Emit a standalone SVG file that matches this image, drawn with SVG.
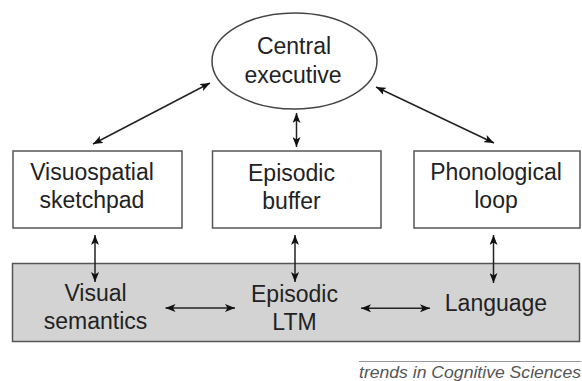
<svg xmlns="http://www.w3.org/2000/svg" width="582" height="381" viewBox="0 0 582 381">
<style>
.t{font-family:"Liberation Sans",Arial,sans-serif;font-size:23px;fill:#222;text-anchor:middle}
.box{fill:#fff;stroke:#555;stroke-width:1.5}
.c{stroke:#222;stroke-width:1.5;fill:none;marker-start:url(#a);marker-end:url(#a)}
</style>
<defs>
<marker id="a" viewBox="0 0 10 8" refX="10" refY="4" markerWidth="10" markerHeight="8" markerUnits="userSpaceOnUse" orient="auto-start-reverse">
<path d="M0,0 L10,4 L0,8 L2.5,4 Z" fill="#111"/>
</marker>
</defs>
<rect width="582" height="381" fill="#fff"/>
<g id="ltm">
<rect x="12.5" y="263.5" width="567" height="78" fill="#d3d3d3" stroke="#555" stroke-width="1.5"/>
</g>
<g id="central-executive">
<ellipse cx="294.5" cy="61" rx="82.5" ry="48" fill="#fff" stroke="#444" stroke-width="1.5"/>
<text class="t" x="294" y="54">Central</text>
<text class="t" x="293" y="83">executive</text>
</g>
<g id="visuospatial">
<rect class="box" x="13" y="151" width="169" height="77"/>
<text class="t" x="92" y="180">Visuospatial</text>
<text class="t" x="92" y="208">sketchpad</text>
</g>
<g id="episodic-buffer">
<rect class="box" x="212.5" y="151" width="168.5" height="77"/>
<text class="t" x="291.5" y="181">Episodic</text>
<text class="t" x="291.5" y="209">buffer</text>
</g>
<g id="phonological">
<rect class="box" x="414" y="151" width="166" height="77"/>
<text class="t" x="496" y="180">Phonological</text>
<text class="t" x="496" y="208">loop</text>
</g>
<g id="visual-semantics">
<text class="t" x="95.5" y="300.5">Visual</text>
<text class="t" x="95.5" y="329">semantics</text>
</g>
<g id="episodic-ltm">
<text class="t" x="294.5" y="301.5">Episodic</text>
<text class="t" x="294.5" y="329.5">LTM</text>
</g>
<g id="language">
<text class="t" x="496" y="311">Language</text>
</g>
<g id="connectors">
<line class="c" x1="93" y1="144" x2="210" y2="83"/>
<line class="c" x1="296.5" y1="113" x2="296.5" y2="147"/>
<line class="c" x1="376" y1="87" x2="494" y2="143"/>
<line class="c" x1="95" y1="235" x2="95" y2="282"/>
<line class="c" x1="295" y1="235" x2="295" y2="282"/>
<line class="c" x1="493.5" y1="235" x2="493.5" y2="283"/>
<line class="c" x1="165.5" y1="308" x2="235" y2="308"/>
<line class="c" x1="361" y1="308.3" x2="430" y2="308.3"/>
</g>
<g id="footer">
<line x1="359" y1="361.5" x2="581" y2="361.5" stroke="#999" stroke-width="1"/>
<text x="581" y="377.5" font-family="Liberation Sans,Arial,sans-serif" font-style="italic" font-size="16" fill="#555" text-anchor="end" textLength="222" lengthAdjust="spacingAndGlyphs">trends in Cognitive Sciences</text>
</g>
</svg>
